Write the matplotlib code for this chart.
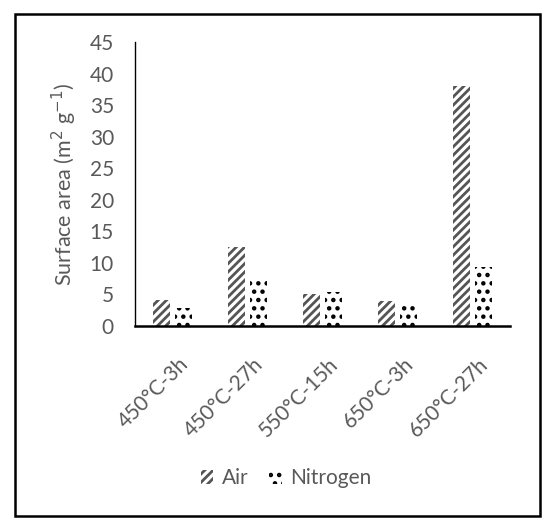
import numpy as np
import matplotlib.pyplot as plt
import matplotlib.transforms as mtransforms
from matplotlib.patches import Rectangle

# data
categories = ["450°C-3h", "450°C-27h", "550°C-15h", "650°C-3h", "650°C-27h"]
air = [4.1, 12.5, 5.0, 3.9, 38.0]
nitrogen = [2.8, 7.6, 5.4, 3.2, 9.4]

plt.rcParams['font.family'] = ['Lato', 'DejaVu Sans']
plt.rcParams['hatch.linewidth'] = 2.0
grey = "#595959"

fig = plt.figure(figsize=(5.5, 5.25), dpi=100)
ax = fig.add_axes([0.245, 0.379, 0.682, 0.541])

x = np.arange(len(categories))
w = 0.23
off = 0.147
ax.bar(x - off, air, w, color="white", edgecolor="#555555", hatch="////", linewidth=0, label="Air")
ax.bar(x + off, nitrogen, w, color="white", edgecolor="black", hatch="..", linewidth=0, label="Nitrogen")

ax.set_xlim(-0.5, len(categories) - 0.5)
ax.set_ylim(0, 45)
ax.set_yticks(range(0, 46, 5))
ax.set_xticks(x)
ax.set_xticklabels(categories, rotation=45, ha="right", rotation_mode="anchor")
ax.tick_params(length=0, labelsize=15, colors=grey)
ax.tick_params(axis="x", pad=20)
ax.tick_params(axis="y", pad=15)
shift = mtransforms.ScaledTranslation(6 / 100, 0, fig.dpi_scale_trans)
for lab in ax.get_xticklabels():
    lab.set_transform(lab.get_transform() + shift)

for s in ["top", "right"]:
    ax.spines[s].set_visible(False)
ax.spines["left"].set_linewidth(1.0)
ax.spines["bottom"].set_linewidth(1.8)

ax.set_ylabel("Surface area (m$^2$ g$^{-1}$)", fontsize=15.5, color=grey, labelpad=8)

leg = fig.legend(loc="center", bbox_to_anchor=(0.52, 0.089), ncol=2, frameon=False,
                 fontsize=15, handlelength=0.6, handleheight=0.7, columnspacing=1.0,
                 handletextpad=0.4)
for t in leg.get_texts():
    t.set_color(grey)

# border around the whole figure
fig.patches.append(Rectangle((15 / 550, 1 - 516 / 525), 525 / 550, 502 / 525,
                             transform=fig.transFigure, fill=False,
                             edgecolor="black", linewidth=1.8))

fig.savefig("out.png", dpi=100)
